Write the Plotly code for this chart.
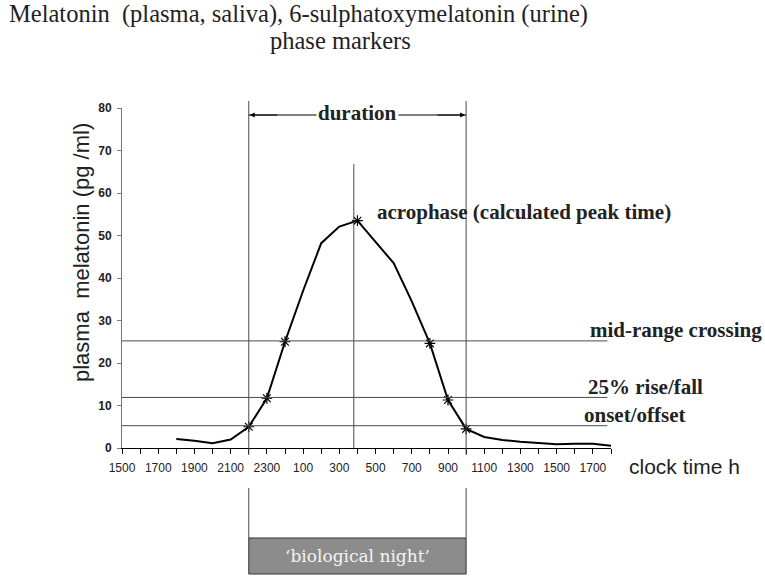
import plotly.graph_objects as go

# ---------------- data ----------------
# hours after 15:00 on the first day, with clock labels
tick_hours = list(range(0, 28))
clock_labels = ["1500", "1700", "1900", "2100", "2300", "100", "300", "500",
                "700", "900", "1100", "1300", "1500", "1700"]

curve_hours = [3, 4, 5, 6, 7, 8, 9, 10, 11, 12, 13, 14, 15, 16, 17, 18, 19,
               20, 21, 22, 23, 24, 25, 26, 27]
melatonin = [2.1, 1.7, 1.1, 2.0, 5.0, 11.7, 25.0, 37.0, 48.2, 52.1, 53.5, 48.6,
             43.5, 34.5, 24.6, 11.3, 4.5, 2.6, 1.9, 1.5, 1.2, 0.9, 1.0, 1.0, 0.5]

marker_hours = [7, 8, 9, 13, 17, 18, 19]
marker_values = [5.0, 11.7, 25.0, 53.5, 24.6, 11.3, 4.5]

threshold_names = ["mid-range crossing", "25% rise/fall", "onset/offset"]
threshold_levels = [25.2, 11.9, 5.25]

onset_hour = 7      # 2200
offset_hour = 19    # 1000
acrophase_hour = 12.8
acrophase_top = 66.8

# ---------------- figure ----------------
W, H = 765, 582
L, R, T, B = 122, 611, 108, 448   # plot area in picture coordinates
pw, ph = R - L, B - T


def px(x):
    return (x - L) / pw


def py(y):
    return (B - y) / ph


ticktext = []
for h in tick_hours:
    if h % 2 == 0 and h // 2 < len(clock_labels):
        ticktext.append(clock_labels[h // 2])
    else:
        ticktext.append("")

fig = go.Figure()
fig.add_trace(go.Scatter(x=curve_hours, y=melatonin, mode="lines",
                         line=dict(color="black", width=2), hoverinfo="skip"))
fig.add_trace(go.Scatter(x=marker_hours, y=marker_values, mode="markers",
                         marker=dict(symbol="asterisk-open", size=9,
                                     color="black",
                                     line=dict(color="black", width=1.2)),
                         hoverinfo="skip"))

shapes = []
line_col = "#4a4a4a"
for lvl in threshold_levels:
    shapes.append(dict(type="line", xref="x", yref="y", x0=0, x1=26.8,
                       y0=lvl, y1=lvl, line=dict(color=line_col, width=1)))
# acrophase
shapes.append(dict(type="line", xref="x", yref="y", x0=acrophase_hour,
                   x1=acrophase_hour, y0=0, y1=acrophase_top,
                   line=dict(color=line_col, width=1)))
# onset / offset verticals
for hx in (onset_hour, offset_hour):
    shapes.append(dict(type="line", xref="x", yref="paper", x0=hx, x1=hx,
                       y0=py(455), y1=py(101), line=dict(color=line_col, width=1)))
    shapes.append(dict(type="line", xref="x", yref="paper", x0=hx, x1=hx,
                       y0=py(538), y1=py(488), line=dict(color=line_col, width=1)))
# duration line
shapes.append(dict(type="line", xref="x", yref="paper", x0=onset_hour,
                   x1=offset_hour, y0=py(115), y1=py(115),
                   line=dict(color="black", width=1)))
# biological night box
shapes.append(dict(type="rect", xref="x", yref="paper", x0=onset_hour,
                   x1=offset_hour, y0=py(574), y1=py(538),
                   fillcolor="#8c8c8c", line=dict(color="#333333", width=1)))

serif = "Liberation Serif"
annotations = [
    dict(text="Melatonin  (plasma, saliva), 6-sulphatoxymelatonin (urine)",
         xref="paper", yref="paper", x=px(298), y=py(14), showarrow=False,
         font=dict(family=serif, size=24.5, color="#222"), xanchor="center",
         yanchor="middle"),
    dict(text="phase markers", xref="paper", yref="paper", x=px(340), y=py(40),
         showarrow=False, font=dict(family=serif, size=24.5, color="#222"),
         xanchor="center", yanchor="middle"),
    dict(text="plasma  melatonin (pg /ml)", xref="paper", yref="paper",
         x=px(81), y=py(253), textangle=-90, showarrow=False,
         font=dict(family="Arial, Liberation Sans", size=22, color="#222"),
         xanchor="center", yanchor="middle"),
    dict(text="clock time h", xref="paper", yref="paper", x=px(627), y=py(466),
         showarrow=False, font=dict(family="Arial, Liberation Sans", size=21,
                                    color="#222"),
         xanchor="left", yanchor="middle"),
    dict(text="<b>acrophase (calculated peak time)</b>", xref="paper",
         yref="paper", x=px(375), y=py(212), showarrow=False,
         font=dict(family=serif, size=21, color="#222"), xanchor="left",
         yanchor="middle"),
    dict(text="<b>duration</b>", xref="x", yref="paper",
         x=(onset_hour + offset_hour) / 2, y=py(113), showarrow=False,
         font=dict(family=serif, size=21, color="#222"), xanchor="center",
         yanchor="middle", bgcolor="white"),
    dict(text="‘biological night’", xref="x", yref="paper",
         x=(onset_hour + offset_hour) / 2, y=py(556), showarrow=False,
         font=dict(family="DejaVu Serif", size=17, color="#f4f4f4"),
         xanchor="center", yanchor="middle"),
]
# duration arrowheads
for hx, axp in ((onset_hour, 30), (offset_hour, -30)):
    annotations.append(dict(text="", xref="x", yref="paper", x=hx, y=py(115),
                            ax=axp, ay=0, axref="pixel", ayref="pixel",
                            showarrow=True, arrowhead=2, arrowsize=1,
                            arrowwidth=1, arrowcolor="black", standoff=1))
label_left = [588, 586, 582]
label_mid = [330, 387, 415]
for name, xl, ym in zip(threshold_names, label_left, label_mid):
    annotations.append(dict(text="<b>" + name + "</b>", xref="paper",
                            yref="paper", x=px(xl), y=py(ym), showarrow=False,
                            font=dict(family=serif, size=21, color="#222"),
                            xanchor="left", yanchor="middle"))

fig.update_layout(
    width=W, height=H, autosize=False,
    margin=dict(l=L, r=W - R, t=T, b=H - B, pad=0),
    paper_bgcolor="white", plot_bgcolor="white",
    showlegend=False,
    shapes=shapes, annotations=annotations,
    xaxis=dict(range=[0, 27], tickmode="array", tickvals=tick_hours,
               ticktext=ticktext, ticks="outside", ticklen=5, tickcolor="black",
               showline=True, linecolor="black", linewidth=1, showgrid=False,
               zeroline=False, ticklabelstandoff=4,
               tickfont=dict(family="Arial, Liberation Sans", size=12,
                             color="#222")),
    yaxis=dict(range=[0, 80], dtick=10, ticks="outside", ticklen=4,
               tickcolor="#777", showline=True, linecolor="#777", linewidth=1,
               showgrid=False, zeroline=False, ticklabelstandoff=3,
               tickfont=dict(family="Arial, Liberation Sans", size=12,
                             color="#222", weight="bold")),
)

fig.write_html("out.html",
               config={"displayModeBar": False},
               post_script="document.body.style.margin='0';"
                           "document.body.style.overflow='hidden';")
